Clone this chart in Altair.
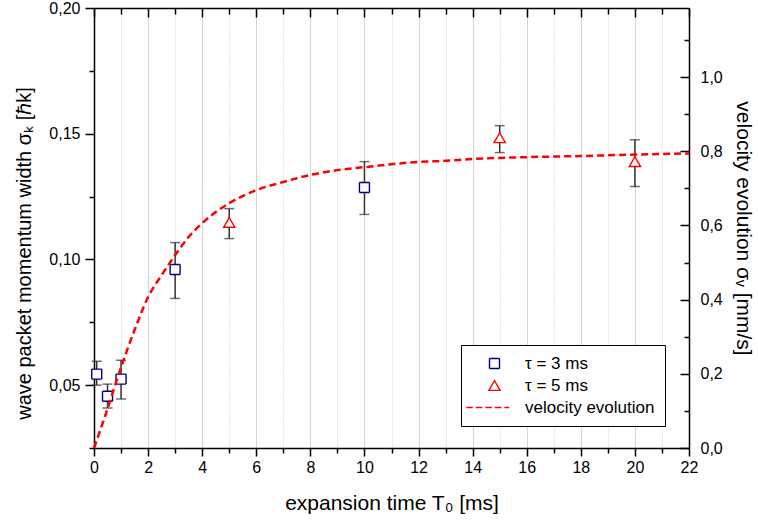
import altair as alt
import pandas as pd

# ---------------- data ----------------
series_names = ["τ = 3 ms", "τ = 5 ms", "velocity evolution"]

t3_time = [0.1, 0.5, 1.0, 3.0, 10.0]
t3_sigma = [0.0544, 0.0456, 0.0524, 0.0960, 0.1286]
t3_low = [0.0500, 0.0409, 0.0445, 0.0845, 0.1179]
t3_high = [0.0595, 0.0504, 0.0599, 0.1067, 0.1389]

t5_time = [5.0, 15.0, 20.0]
t5_sigma = [0.1147, 0.1484, 0.1389]
t5_low = [0.1083, 0.1425, 0.1290]
t5_high = [0.1202, 0.1532, 0.1476]

curve_time = [0, 0.4, 1, 1.5, 2, 2.5, 3, 3.5, 4, 5, 6, 7, 8, 9, 10, 11, 12, 13, 14, 16, 18, 20, 22]
curve_v = [0.0, 0.084, 0.218, 0.318, 0.407, 0.466, 0.520, 0.569, 0.606, 0.660, 0.695, 0.717,
           0.736, 0.749, 0.757, 0.765, 0.771, 0.774, 0.779, 0.784, 0.787, 0.791, 0.794]

x_ticks = list(range(0, 23))
left_ticks = [0.025, 0.05, 0.075, 0.1, 0.125, 0.15, 0.175, 0.2]
right_ticks = [0.0, 0.1, 0.2, 0.3, 0.4, 0.5, 0.6, 0.7, 0.8, 0.9, 1.0, 1.1]
right_label_ticks = [0.0, 0.2, 0.4, 0.6, 0.8, 1.0]

pts = pd.DataFrame({
    "time": t3_time + t5_time,
    "sigma": t3_sigma + t5_sigma,
    "low": t3_low + t5_low,
    "high": t3_high + t5_high,
    "series": [series_names[0]] * len(t3_time) + [series_names[1]] * len(t5_time),
})
curve = pd.DataFrame({"time": curve_time, "v": curve_v})

# ---------------- styling ----------------
FONT = "Liberation Sans, Arial, Helvetica, sans-serif"
GRID = "#c8c8c8"
ERR = "#333333"

xs = alt.Scale(domain=[0, 22], nice=False, zero=False)
ys = alt.Scale(domain=[0.025, 0.2], nice=False, zero=False)
yr = alt.Scale(domain=[0, 1.186], nice=False, zero=False)

even = "datum.value % 2 === 0"
left_major = "abs(datum.value * 20 - round(datum.value * 20)) < 1e-6"
right_major = "abs(datum.value * 5 - round(datum.value * 5)) < 1e-6"

bottom_axis = alt.Axis(
    orient="bottom", values=x_ticks,
    labelExpr=f"{even} ? datum.label : ''",
    tickSize={"condition": {"test": even, "value": 8}, "value": 5},
    tickColor="black", tickWidth=1.5,
    domainColor="black", domainWidth=1.5,
    grid=True, gridColor=GRID, gridWidth=1,
    gridDash={"condition": {"test": even, "value": [1, 0]}, "value": [1, 2]},
    labelFont=FONT, labelFontSize=16, labelColor="black", labelPadding=3,
    labelFlush=False, labelOverlap=False,
    title="expansion time T₀ [ms]", titleFont=FONT, titleFontSize=21,
    titleFontWeight="normal", titleColor="black", titlePadding=17,
)

top_axis = alt.Axis(
    orient="bottom", offset=-440, values=x_ticks, labels=False, grid=False,
    tickSize={"condition": {"test": even, "value": 9}, "value": 6},
    tickColor="black", tickWidth=1.5,
    domainColor="black", domainWidth=1.5, title=None,
)

left_axis = alt.Axis(
    orient="left", values=left_ticks, grid=False,
    labelExpr=f"({left_major}) ? replace(format(datum.value, '.2f'), '.', ',') : ''",
    tickSize={"condition": {"test": left_major, "value": 9}, "value": 5},
    tickColor="black", tickWidth=1.5,
    domainColor="black", domainWidth=1.5,
    labelFont=FONT, labelFontSize=16, labelColor="black", labelPadding=5,
    labelFlush=False, labelOverlap=False,
    title="wave packet momentum width σₖ [ℏk]", titleFont=FONT, titleFontSize=20,
    titleFontWeight="normal", titleColor="black", titlePadding=14, titleY=245,
)

right_axis = alt.Axis(
    orient="right", values=right_label_ticks, grid=False, ticks=False,
    labelExpr="replace(format(datum.value, '.1f'), '.', ',')",
    domainColor="black", domainWidth=1.5,
    labelFont=FONT, labelFontSize=16, labelColor="black", labelPadding=11,
    labelFlush=False, labelOverlap=False,
    title="velocity evolution σᵥ [mm/s]", titleFont=FONT, titleFontSize=21,
    titleFontWeight="normal", titleColor="black", titlePadding=10,
)

right_tick_axis = alt.Axis(
    orient="left", offset=-595, values=right_ticks, labels=False, grid=False,
    domain=False, title=None,
    tickSize={"condition": {"test": right_major, "value": 9}, "value": 5},
    tickColor="black", tickWidth=1.5,
)

legend = alt.Legend(
    title=None, orient="none", legendX=367, legendY=337,
    padding=10, strokeColor="black", fillColor="white",
    labelFont=FONT, labelFontSize=17, labelColor="black",
    symbolSize=100, rowPadding=4, labelOffset=22, symbolOffset=15,
)

# ---------------- layers ----------------
base = alt.Chart(pts)

err = base.mark_rule(color=ERR, strokeWidth=1.5).encode(
    x=alt.X("time:Q", scale=xs, axis=None),
    y=alt.Y("low:Q", scale=ys),
    y2="high:Q",
)

caps = base.transform_fold(["low", "high"], as_=["end", "val"]).mark_tick(
    orient="horizontal", size=10, thickness=1.5, color=ERR
).encode(
    x=alt.X("time:Q", scale=xs, axis=None),
    y=alt.Y("val:Q", scale=ys),
)

points = base.mark_point(filled=False, opacity=1, fill="white").encode(
    x=alt.X("time:Q", scale=xs, axis=bottom_axis),
    y=alt.Y("sigma:Q", scale=ys, axis=left_axis),
    color=alt.Color("series:N", scale=alt.Scale(domain=series_names,
                    range=["#000080", "#ff0000", "#ff0000"]), legend=legend),
    shape=alt.Shape("series:N", scale=alt.Scale(domain=series_names,
                    range=["square", "triangle-up", "M-4.6,0H2.4"]), legend=legend),
    strokeWidth=alt.StrokeWidth("series:N", scale=alt.Scale(domain=series_names,
                    range=[1.4, 1.4, 2.5]), legend=legend),
    strokeDash=alt.StrokeDash("series:N", scale=alt.Scale(domain=series_names,
                    range=[[1, 0], [1, 0], [6.5, 3]]), legend=legend),
    size=alt.Size("series:N", scale=alt.Scale(domain=series_names,
                    range=[100, 150, 100]), legend=None),
)

topframe = base.mark_point(opacity=0).encode(
    x=alt.X("time:Q", scale=xs, axis=top_axis),
    y=alt.Y("sigma:Q", scale=ys),
)

left_group = alt.layer(err, caps, points, topframe).resolve_axis(x="independent")

line = alt.Chart(curve).mark_line(
    color="#ff0000", strokeWidth=2.5, strokeDash=[7, 4], interpolate="monotone"
).encode(
    x=alt.X("time:Q", scale=xs, axis=None),
    y=alt.Y("v:Q", scale=yr, axis=right_axis),
)

rtick_layer = alt.Chart(curve).mark_line(opacity=0).encode(
    x=alt.X("time:Q", scale=xs, axis=None),
    y=alt.Y("v:Q", scale=yr, axis=right_tick_axis),
)

right_group = alt.layer(line, rtick_layer).resolve_axis(y="independent")

chart = alt.layer(left_group, right_group).resolve_scale(
    y="independent"
).resolve_axis(
    x="independent", y="independent"
).properties(
    width=595, height=440,
    autosize=alt.AutoSizeParams(type="none"),
    padding={"left": 94, "top": 8, "right": 69, "bottom": 76},
    background="white",
).configure_view(stroke=None)

chart.save("out.html", embed_options={"renderer": "svg", "actions": False})
